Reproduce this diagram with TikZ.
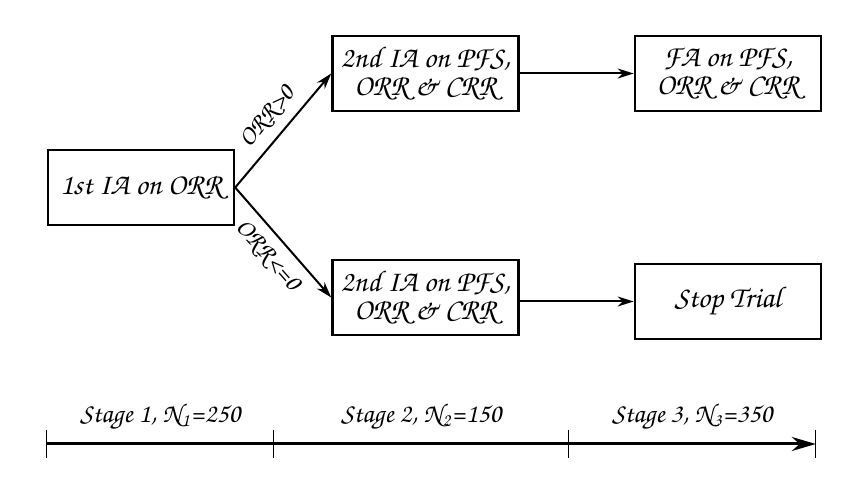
\documentclass[tikz,border=0pt]{standalone}
\usepackage[T1]{fontenc}
\usepackage{chancery}
\usetikzlibrary{positioning,arrows.meta}

\begin{document}
\begin{tikzpicture}[%
    ->,
    >={Stealth[length=8pt,width=5pt]},
    line width=1pt,
    node distance=48pt,
    stagebox/.style={%
      rectangle,
      minimum width=93pt,
      minimum height=37.5pt,
      align=center,
      line width=1.2pt,
      font=\fontsize{15}{14}\selectfont,
      draw
    },
    cond/.style={font=\fontsize{13}{14}\selectfont},
    stagelabel/.style={above=3pt,font=\fontsize{13.5}{15}\selectfont}
  ]
    \useasboundingbox (0,0) rectangle (434pt,-242.5pt);
    \node[stagebox] (ia1) at (70.5pt,-93.75pt)              {1st IA on ORR};
    \node[stagebox] (ia2up) [right=of ia1, yshift=57pt]     {2nd IA on PFS,\\ ORR \& CRR};
    \node[stagebox] (fa)    [node distance=57pt,right=of ia2up] {FA on PFS,\\ ORR \& CRR};
    \node[stagebox] (ia2dn) [right=of ia1, yshift=-55pt]    {2nd IA on PFS,\\ ORR \& CRR};
    \node[stagebox] (stop)  [node distance=57pt,right=of ia2dn, yshift=-2pt] {Stop Trial};

    \path (ia1.east) edge node[cond,sloped,above=1pt] {ORR>0} (ia2up.west)
          (ia1.east) edge node[cond,sloped,below=1pt] {ORR<=0} (ia2dn.west)
          (ia2up)    edge (fa)
          (ia2dn.east |- stop.west) edge (stop.west);

    % time line
    \coordinate (t0) at ([yshift=-128.25pt]ia1.west);
    \coordinate (t1) at ([xshift=113.5pt]t0);
    \coordinate (t2) at ([xshift=261pt]t0);
    \coordinate (t3) at ([xshift=384.5pt]t0);
    \draw[line width=1.5pt,-{Stealth[length=12pt,width=7pt]}] (t0) -- (t3);
    \foreach \t in {t0,t1,t2,t3}
      \draw[-,semithick] ([yshift=7pt]\t) -- ([yshift=-7pt]\t);
    \path (t0) -- node[stagelabel] {Stage 1, N\textsubscript{1}=250} (t1)
          (t1) -- node[stagelabel] {Stage 2, N\textsubscript{2}=150} (t2)
          (t2) -- node[stagelabel] {Stage 3, N\textsubscript{3}=350} (t3);
\end{tikzpicture}
\end{document}
